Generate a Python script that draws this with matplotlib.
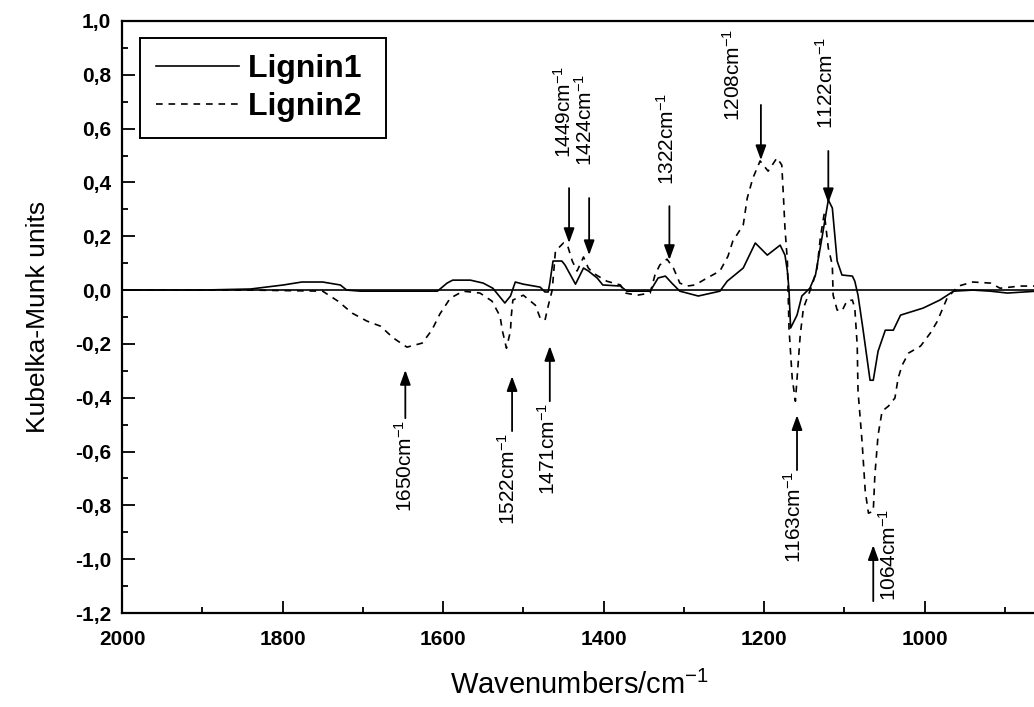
import matplotlib
matplotlib.use("Agg")
import matplotlib.pyplot as plt
from matplotlib.ticker import MultipleLocator, FuncFormatter

plt.rcParams['font.family'] = ['Liberation Sans', 'DejaVu Sans']
plt.rcParams['mathtext.fontset'] = 'custom'
plt.rcParams['mathtext.rm'] = 'Liberation Sans'
plt.rcParams['mathtext.it'] = 'Liberation Sans'
plt.rcParams['mathtext.bf'] = 'Liberation Sans:bold'

# --- spectra (wavenumber cm-1, KM units) ---
wn1 = [2000, 1903, 1840, 1799, 1776, 1750, 1728, 1720, 1703, 1654, 1607, 1595,
       1588, 1566, 1550, 1538, 1523, 1516, 1510, 1500, 1479, 1473, 1469, 1467,
       1463, 1452, 1448, 1435, 1425, 1419, 1408, 1401, 1379, 1371, 1342, 1332,
       1323, 1315, 1305, 1282, 1255, 1246, 1226, 1211, 1196, 1180, 1174, 1171,
       1169, 1167, 1159, 1153, 1143, 1136, 1128, 1120, 1115, 1109, 1103, 1090,
       1087, 1083, 1077, 1068, 1064, 1058, 1049, 1039, 1030, 1002, 981, 964,
       940, 918, 897, 860]
km1 = [0.0, 0.0, 0.004, 0.019, 0.030, 0.030, 0.019, 0.0, -0.004, -0.004, -0.004, 0.026,
       0.037, 0.037, 0.026, 0.007, -0.048, -0.022, 0.030, 0.022, 0.011, -0.007, -0.007, 0.026,
       0.108, 0.108, 0.093, 0.022, 0.082, 0.071, 0.045, 0.019, 0.015, -0.004, -0.004, 0.045,
       0.052, 0.026, -0.004, -0.022, -0.004, 0.033, 0.082, 0.175, 0.130, 0.167, 0.130, 0.071,
       0.0, -0.141, -0.093, -0.022, 0.007, 0.056, 0.193, 0.335, 0.305, 0.108, 0.056, 0.052,
       0.033, -0.019, -0.141, -0.335, -0.335, -0.227, -0.149, -0.149, -0.093, -0.067, -0.037, -0.004,
       0.0, -0.004, -0.011, -0.004]

wn2 = [2000, 1840, 1750, 1731, 1713, 1695, 1678, 1662, 1645, 1626, 1614, 1604,
       1591, 1575, 1554, 1539, 1529, 1526, 1521, 1516, 1515, 1513, 1500, 1485,
       1479, 1473, 1469, 1464, 1460, 1450, 1445, 1439, 1433, 1425, 1419, 1413,
       1396, 1379, 1373, 1358, 1342, 1336, 1330, 1321, 1313, 1305, 1296, 1286,
       1271, 1255, 1245, 1239, 1226, 1221, 1214, 1205, 1195, 1184, 1178, 1176,
       1174, 1171, 1169, 1165, 1161, 1155, 1151, 1145, 1140, 1134, 1130, 1125,
       1120, 1115, 1114, 1109, 1103, 1097, 1090, 1087, 1084, 1083, 1078, 1074,
       1070, 1064, 1062, 1058, 1053, 1045, 1037, 1033, 1028, 1020, 1005, 993,
       984, 981, 972, 958, 940, 918, 906, 881, 860]
km2 = [0.0, 0.0, -0.004, -0.041, -0.086, -0.115, -0.134, -0.178, -0.212, -0.197, -0.149, -0.089,
       -0.030, -0.004, -0.011, -0.041, -0.097, -0.152, -0.216, -0.152, -0.097, -0.037, -0.019, -0.056,
       -0.104, -0.112, -0.059, 0.0, 0.145, 0.175, 0.167, 0.108, 0.071, 0.123, 0.082, 0.063,
       0.033, 0.019, -0.011, -0.019, -0.011, 0.056, 0.093, 0.115, 0.082, 0.026, 0.015, 0.019,
       0.045, 0.071, 0.126, 0.182, 0.242, 0.342, 0.416, 0.480, 0.442, 0.491, 0.465, 0.353,
       0.230, 0.108, -0.141, -0.327, -0.413, -0.167, -0.067, -0.019, 0.019, 0.082, 0.193, 0.286,
       0.156, 0.093, -0.019, -0.074, -0.078, -0.041, -0.037, -0.067, -0.204, -0.375, -0.561, -0.747,
       -0.829, -0.822, -0.688, -0.539, -0.450, -0.431, -0.401, -0.327, -0.279, -0.234, -0.208, -0.160,
       -0.115, -0.093, -0.030, 0.015, 0.030, 0.026, 0.007, 0.015, 0.015]

# band labels: (label, text x, text y, arrow x, arrow tail y, arrow tip y, where)
bands = [
    ("1650", 1647, -0.48, 1647, -0.476, -0.297, "below"),
    ("1522", 1519, -0.53, 1514, -0.524, -0.320, "below"),
    ("1471", 1470, -0.42, 1467, -0.413, -0.208, "below"),
    ("1449", 1450, 0.49, 1443, 0.379, 0.175, "above"),
    ("1424", 1423, 0.46, 1418, 0.342, 0.130, "above"),
    ("1322", 1321, 0.39, 1318, 0.312, 0.112, "above"),
    ("1208", 1239, 0.63, 1204, 0.688, 0.483, "above"),
    ("1122", 1123, 0.60, 1120, 0.517, 0.323, "above"),
    ("1163", 1163, -0.67, 1159, -0.669, -0.465, "below"),
    ("1064", 1045, -1.155, 1064, -1.156, -0.948, "above"),
]

fig = plt.figure(figsize=(10.34, 7.07), dpi=100)
ax = fig.add_axes([122 / 1034, 1 - 613 / 707, 915 / 1034, 592 / 707])

ax.plot(wn1, km1, color='black', lw=1.2, label='Lignin1 ')
ax.plot(wn2, km2, color='black', lw=1.2, ls=(0, (4, 3.5)), label='Lignin2 ')
ax.axhline(0, color='black', lw=1.2)

for lab, tx, ty, axx, y0, y1, where in bands:
    ax.annotate('', xy=(axx, y1), xytext=(axx, y0),
                arrowprops=dict(arrowstyle='-|>,head_length=0.55,head_width=0.2',
                                color='black', lw=1.3, mutation_scale=16,
                                shrinkA=0, shrinkB=0))
    ax.text(tx, ty, lab + 'cm$^{-1}$', rotation=90, fontsize=15,
            ha='center', va='top' if where == 'below' else 'bottom')

ax.set_xlim(2000, 860)
ax.set_ylim(-1.2, 1.0)
ax.xaxis.set_major_locator(MultipleLocator(200))
ax.xaxis.set_minor_locator(MultipleLocator(100))
ax.yaxis.set_major_locator(MultipleLocator(0.2))
ax.yaxis.set_minor_locator(MultipleLocator(0.1))
ax.yaxis.set_major_formatter(FuncFormatter(lambda v, p: f"{v:.1f}".replace('.', ',').replace('-0,0', '0,0')))
ax.tick_params(which='both', direction='in', top=False, right=False)
ax.tick_params(which='major', length=9, width=1.3, labelsize=15)
ax.tick_params(axis='x', which='major', pad=12)
ax.tick_params(axis='y', which='major', pad=8)
ax.tick_params(which='minor', length=4, width=1.3)
for t in ax.get_xticklabels() + ax.get_yticklabels():
    t.set_fontweight('bold')
for s in ax.spines.values():
    s.set_linewidth(1.6)

ax.set_xlabel('Wavenumbers/cm$^{-1}$', fontsize=21, labelpad=16)
ax.set_ylabel('Kubelka-Munk units', fontsize=19, labelpad=18)

leg = ax.legend(loc='upper left', bbox_to_anchor=(140 / 1034, 1 - 38 / 707),
                bbox_transform=fig.transFigure, borderaxespad=0,
                prop={'size': 23, 'weight': 'bold'}, handlelength=2.6,
                handletextpad=0.28, labelspacing=0.25, borderpad=0.5,
                fancybox=False, edgecolor='black', framealpha=1)
leg.get_frame().set_linewidth(1.4)

fig.savefig('out.png', dpi=100)
